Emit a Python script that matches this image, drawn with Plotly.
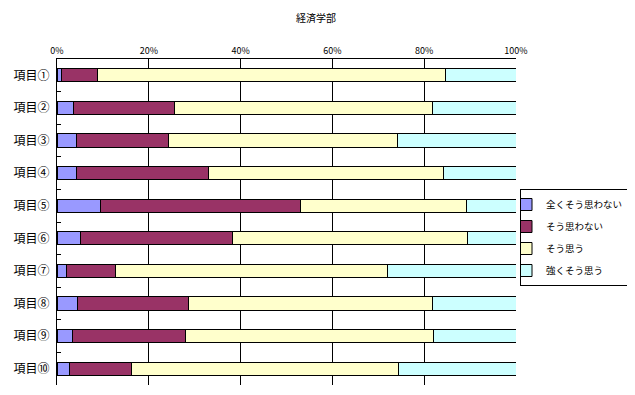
import plotly.graph_objects as go

categories = ["項目①", "項目②", "項目③", "項目④", "項目⑤", "項目⑥", "項目⑦", "項目⑧", "項目⑨", "項目⑩"]
series_names = ["全くそう思わない", "そう思わない", "そう思う", "強くそう思う"]
v_strong_no = [1.0, 3.7, 4.3, 4.3, 9.5, 5.2, 2.1, 4.4, 3.4, 2.8]
v_no = [7.9, 21.8, 19.9, 28.6, 43.6, 33.1, 10.7, 24.2, 24.7, 13.5]
v_yes = [75.7, 56.3, 49.9, 51.2, 36.2, 51.2, 59.1, 53.1, 54.0, 58.2]
v_strong_yes = [15.4, 18.2, 25.9, 15.9, 10.7, 10.5, 28.1, 18.3, 17.9, 25.5]
x_ticks = [0, 20, 40, 60, 80, 100]
x_ticktext = ["0%", "20%", "40%", "60%", "80%", "100%"]

colors = ["#9999FF", "#993366", "#FFFFCC", "#CCFFFF"]
font = "Noto Sans CJK JP"

# the page body has an 8px margin, so the figure is sized to fill the remaining window
W, H = 627, 387

fig = go.Figure()
for name, vals, col in zip(series_names, [v_strong_no, v_no, v_yes, v_strong_yes], colors):
    fig.add_trace(go.Bar(
        y=categories, x=vals, name=name, orientation="h",
        marker=dict(color=col, line=dict(color="black", width=1)),
        legendgroup=name, hoverinfo="skip",
    ))

fig.update_layout(
    width=W, height=H,
    margin=dict(l=49, r=119, t=51, b=10, autoexpand=False),
    barmode="stack", bargap=0.6,
    plot_bgcolor="white", paper_bgcolor="white",
    font=dict(family=font, color="black", size=10),
    title=dict(text="経済学部", x=308/W, xanchor="center", y=1-10/H, yanchor="middle",
               font=dict(size=10, family=font, color="black")),
    legend=dict(
        xref="container", yref="container",
        x=621/W, y=1-181/H, xanchor="right", yanchor="top",
        bordercolor="black", borderwidth=1, bgcolor="white",
        font=dict(size=9.5, family=font), traceorder="grouped",
        tracegroupgap=3, itemwidth=30, indentation=-15,
    ),
    showlegend=True,
)
fig.update_xaxes(
    side="top", range=[0, 100], tickvals=x_ticks, ticktext=x_ticktext,
    showgrid=True, gridcolor="black", gridwidth=1,
    showline=True, linecolor="black", linewidth=1, automargin=False,
    ticks="", tickfont=dict(size=9, family=font), zeroline=False, fixedrange=True,
)
fig.update_yaxes(
    autorange="reversed", showline=True, linecolor="black", linewidth=1,
    ticks="inside", ticklen=4, tickcolor="black", tickson="boundaries",
    tickfont=dict(size=12, family=font), showgrid=False, fixedrange=True,
    automargin=False, ticklabelstandoff=4,
)

fig.write_html("out.html")
